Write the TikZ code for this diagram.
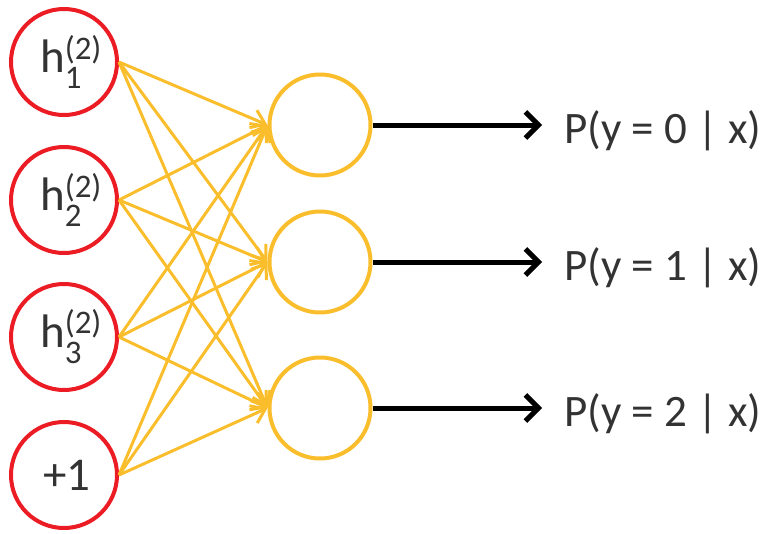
\documentclass[tikz,border=0pt]{standalone}
\usepackage{amsmath}
\usepackage{fontspec}
\setmainfont{Carlito}
\usetikzlibrary{arrows.meta}
\definecolor{hred}{RGB}{236,28,36}
\definecolor{oyellow}{RGB}{250,190,45}
\newcommand{\hlab}[1]{\hspace*{14pt}h$^{\text{(2)}}_{\text{#1}}$}

\begin{document}
\begin{tikzpicture}[x=1pt,y=-1pt,
		hidden node/.style={circle,draw=hred,line width=4pt,minimum size=106pt,inner sep=0pt,
			text=black!80,font=\fontsize{47}{50}\selectfont},
		output node/.style={circle,draw=oyellow,line width=4pt,minimum size=101pt,inner sep=0pt},
		label node/.style={anchor=base west,inner sep=0pt,text=black!80,font=\fontsize{45}{48}\selectfont}]
	\useasboundingbox (0,0) rectangle (762,533);

	\node[hidden node] (1) at (64,62) {\hlab{1}};
	\node[hidden node] (2) at (64,200) {\hlab{2}};
	\node[hidden node] (3) at (64,337) {\hlab{3}};
	\node[hidden node] (4) at (64,475) {\hspace*{6pt}+1};
	\node[output node] (5) at (320,125) {};
	\node[output node] (6) at (320,262) {};
	\node[output node] (7) at (320,408) {};
	\node[label node] (8) at (564,143) {P(y = 0 | x)};
	\node[label node] (9) at (564,280) {P(y = 1 | x)};
	\node[label node] (10) at (564,426) {P(y = 2 | x)};

	\path[oyellow,line width=3pt,-{Straight Barb[length=13pt,width=19pt]}]
		(1.east) edge (5.west)
		         edge (6.west)
		         edge (7.west)
		(2.east) edge (5.west)
		         edge (6.west)
		         edge (7.west)
		(3.east) edge (5.west)
		         edge (6.west)
		         edge (7.west)
		(4.east) edge (5.west)
		         edge (6.west)
		         edge (7.west);
	\path[black,line width=5pt,shorten >=22pt,-{Straight Barb[length=13pt,width=26pt]}]
		(5.east) edge (5.east -| 8.west)
		(6.east) edge (6.east -| 9.west)
		(7.east) edge (7.east -| 10.west);
\end{tikzpicture}
\end{document}
